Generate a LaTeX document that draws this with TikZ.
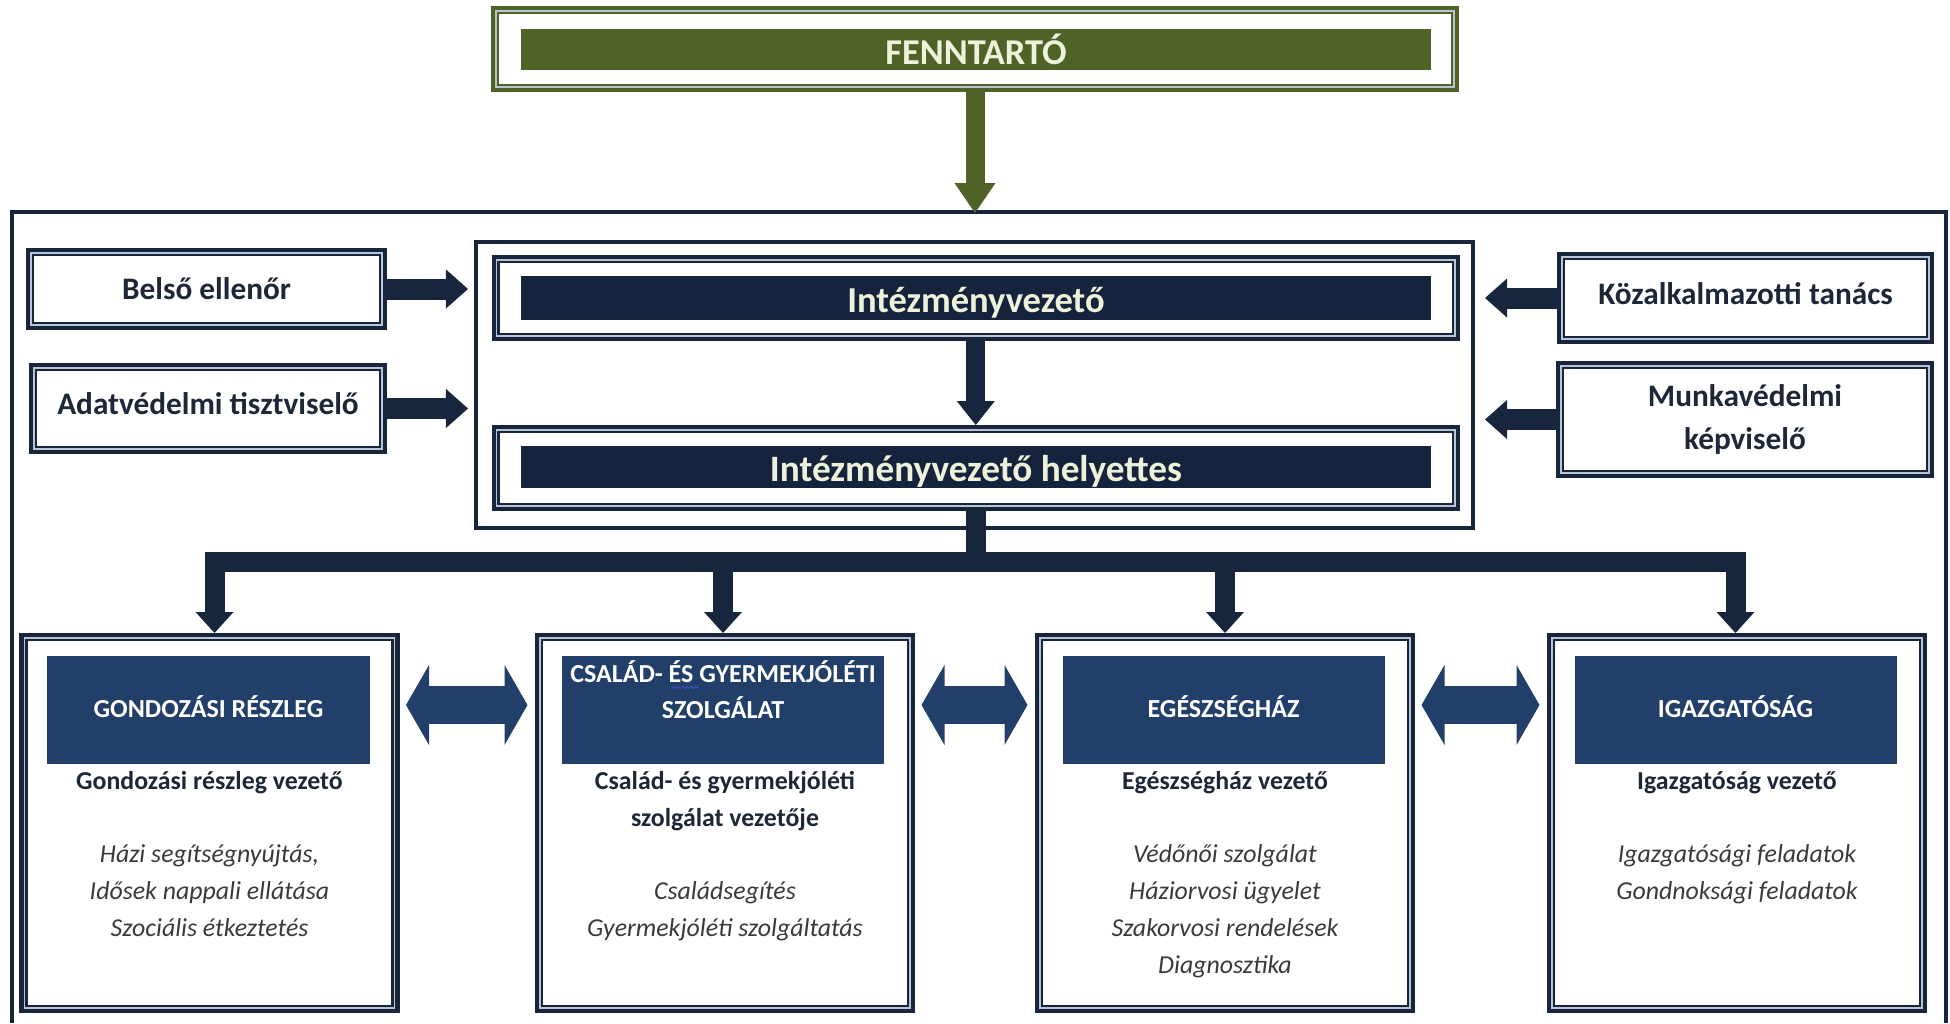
\documentclass[tikz,border=0pt]{standalone}
\usepackage{fontspec}
\setmainfont{Carlito}
\usetikzlibrary{arrows.meta,decorations.pathmorphing}

\definecolor{sotet}{HTML}{17263D}
\definecolor{savszin}{HTML}{15243C}
\definecolor{fejlec}{HTML}{213F69}
\definecolor{zold}{HTML}{4F6228}
\definecolor{krem}{HTML}{EEF2DA}
\definecolor{vilagos}{HTML}{B9C4D4}
\definecolor{szoveg}{HTML}{1E2738}
\definecolor{dolt}{HTML}{3A3A3A}
\definecolor{hullam}{HTML}{3A4FC0}

\newcommand{\vezsor}[1]{\textcolor{szoveg}{\upshape\bfseries #1}}

\tikzset{
  doboz/.style={draw=sotet, line width=1.4mm, fill=white, inner sep=0pt, align=center,
    text=szoveg, font=\fontsize{17.8}{25.5}\selectfont\bfseries},
  zolddoboz/.style={doboz, draw=zold},
  savdoboz/.style={fill=savszin, minimum width=182mm, minimum height=8.2mm, inner sep=0pt,
    text=krem, font=\fontsize{20.8}{24}\selectfont\bfseries},
  fejdoboz/.style={fill=fejlec, minimum width=64.4mm, minimum height=21.6mm, inner sep=0pt,
    align=center, text=white, font=\fontsize{14.8}{20.9}\selectfont\bfseries},
  leiras/.style={anchor=north, inner sep=0pt, align=center, text=dolt,
    font=\fontsize{14.7}{20.9}\selectfont\itshape},
  fonyil/.style={draw=zold, line width=3.8mm, -{Triangle[width=8.2mm,length=6mm,line width=0pt]}},
  nyil/.style={draw=sotet, line width=3.8mm, -{Triangle[width=7.6mm,length=4.8mm,line width=0pt]}},
  oldalnyil/.style={draw=sotet, line width=4.2mm, -{Triangle[width=7.8mm,length=4.4mm,line width=0pt]}},
  lenyil/.style={draw=sotet, line width=4mm, -{Triangle[width=7.6mm,length=4.2mm,line width=0pt]}},
  sin/.style={draw=sotet, line width=4mm, line cap=rect},
  ketiranyu/.style={draw=fejlec, line width=7.6mm,
    {Triangle[width=16mm,length=4.6mm,line width=0pt]}-{Triangle[width=16mm,length=4.6mm,line width=0pt]},
    postaction={draw=fejlec, line width=7.6mm, -, shorten <=4.6mm, shorten >=4.8mm}}
}

\begin{document}
\begin{tikzpicture}[x=0.2mm, y=-0.2mm]
  \useasboundingbox (0,0) rectangle (1950,1023);

  \node[zolddoboz, minimum width=192.2mm, minimum height=15.8mm] (fennt) at (975,49) {};
  \node[savdoboz, fill=zold, font=\fontsize{20.7}{24}\selectfont\bfseries] (fenntsav) at (976,49.5) {FENNTARTÓ};

  \coordinate (keretteteje) at (975,213);
  \draw[sotet, line width=0.7mm] (12,1023) |- (1946,212) -- (1946,1023);

  \node[draw=sotet, line width=0.8mm, fill=white, minimum width=199.3mm, minimum height=57.2mm] (vezetes) at (974.75,385) {};
  \node[doboz, minimum width=192.3mm, minimum height=15.8mm] (vez) at (975.75,298) {};
  \node[savdoboz, text height=7.4mm, text depth=1.4mm] (vezsav) at (976,297.5) {Intézményvezető};
  \node[doboz, minimum width=192.3mm, minimum height=15.8mm] (hely) at (975.75,468) {};
  \node[savdoboz, text height=7.1mm, text depth=1.4mm, font=\fontsize{21.2}{24}\selectfont\bfseries] (helysav) at (976,467) {Intézményvezető helyettes};

  \node[doboz, minimum width=70.8mm, minimum height=15mm] (belso) at (206.5,289) {Belső ellenőr};
  \node[doboz, minimum width=70.2mm, minimum height=16.8mm, text depth=2mm] (adat) at (208,408.5) {Adatvédelmi tisztviselő};
  \node[doboz, minimum width=74mm, minimum height=17mm, text depth=2mm] (kozalk) at (1745.5,298) {Közalkalmazotti tanács};
  \node[doboz, minimum width=74.2mm, minimum height=22mm, font=\fontsize{17.8}{24.7}\selectfont\bfseries] (munka) at (1745,419.5) {Munkavédelmi\\képviselő};

  \node[doboz, minimum width=74.6mm, minimum height=74.6mm] (g1) at (209.5,823) {};
  \node[doboz, minimum width=74.6mm, minimum height=74.6mm] (g2) at (725,823) {};
  \node[doboz, minimum width=74.6mm, minimum height=74.6mm] (g3) at (1225,823) {};
  \node[doboz, minimum width=74.6mm, minimum height=74.6mm] (g4) at (1737,823) {};

  \foreach \n in {belso,adat,kozalk,munka,vez,hely,g1,g2,g3,g4} {
    \draw[vilagos, line width=0.25mm] ([shift={(1mm,-1mm)}]\n.north west) rectangle ([shift={(-1mm,1mm)}]\n.south east);
    \draw[sotet, line width=0.3mm] ([shift={(1.5mm,-1.5mm)}]\n.north west) rectangle ([shift={(-1.5mm,1.5mm)}]\n.south east);
  }
  \draw[vilagos, line width=0.25mm] ([shift={(1mm,-1mm)}]fennt.north west) rectangle ([shift={(-1mm,1mm)}]fennt.south east);
  \draw[zold, line width=0.3mm] ([shift={(1.5mm,-1.5mm)}]fennt.north west) rectangle ([shift={(-1.5mm,1.5mm)}]fennt.south east);

  \node[fejdoboz, text depth=1.4mm] (h1) at (208.5,710) {GONDOZÁSI RÉSZLEG};
  \node[fejdoboz, text depth=8.2mm] (h2) at (723,710) {CSALÁD- ÉS GYERMEKJÓLÉTI\\SZOLGÁLAT};
  \node[fejdoboz, text depth=1.4mm] (h3) at (1223.5,710) {EGÉSZSÉGHÁZ};
  \node[fejdoboz, text depth=1.4mm] (h4) at (1735.5,710) {IGAZGATÓSÁG};
  \draw[hullam, line width=0.2mm, decorate, decoration={snake, amplitude=0.2mm, segment length=0.9mm}] (672,687.5) -- (699,687.5);

  \node[leiras] (t1) at (209.5,771) {\vezsor{Gondozási részleg vezető}\\[20.9pt]
    Házi segítségnyújtás,\\Idősek nappali ellátása\\Szociális étkeztetés};
  \node[leiras] (t2) at (725,771) {\vezsor{Család- és gyermekjóléti}\\\vezsor{szolgálat vezetője}\\[20.9pt]
    Családsegítés\\Gyermekjóléti szolgáltatás};
  \node[leiras] (t3) at (1225,771) {\vezsor{Egészségház vezető}\\[20.9pt]
    Védőnői szolgálat\\Háziorvosi ügyelet\\Szakorvosi rendelések\\Diagnosztika};
  \node[leiras] (t4) at (1737,771) {\vezsor{Igazgatóság vezető}\\[20.9pt]
    Igazgatósági feladatok\\Gondnoksági feladatok};

  \draw[fonyil] (fennt.south) -- (keretteteje);
  \draw[nyil] (vez.south) -- (hely.north);

  \draw[oldalnyil, shorten >=1.3mm] (belso.east) -- (vezetes.west |- belso.east);
  \draw[oldalnyil, shorten >=1.3mm] (adat.east) -- (vezetes.west |- adat.east);
  \draw[oldalnyil, shorten >=2mm] (kozalk.west) -- (vezetes.east |- kozalk.west);
  \draw[oldalnyil, shorten >=2mm] (munka.west) -- (vezetes.east |- munka.west);

  \coordinate (elagazas) at (975,561.5);
  \draw[sin, line cap=butt] (hely.south) -- (hely.south |- elagazas);
  \draw[sin] ([xshift=1mm]g1.north |- elagazas) -- ([xshift=-0.3mm]g4.north |- elagazas);
  \foreach \g/\dx in {g1/1mm,g2/-0.4mm,g3/0mm,g4/-0.3mm}
    \draw[lenyil] ([xshift=\dx]\g.north |- elagazas) -- ([xshift=\dx]\g.north);

  \coordinate (sor) at (975,705);
  \draw[ketiranyu, shorten <=1.3mm, shorten >=1.5mm] (g1.east |- sor) -- (g2.west |- sor);
  \draw[ketiranyu, shorten <=1.3mm, shorten >=1.5mm] (g2.east |- sor) -- (g3.west |- sor);
  \draw[ketiranyu, shorten <=1.3mm, shorten >=1.5mm] (g3.east |- sor) -- (g4.west |- sor);
\end{tikzpicture}
\end{document}
